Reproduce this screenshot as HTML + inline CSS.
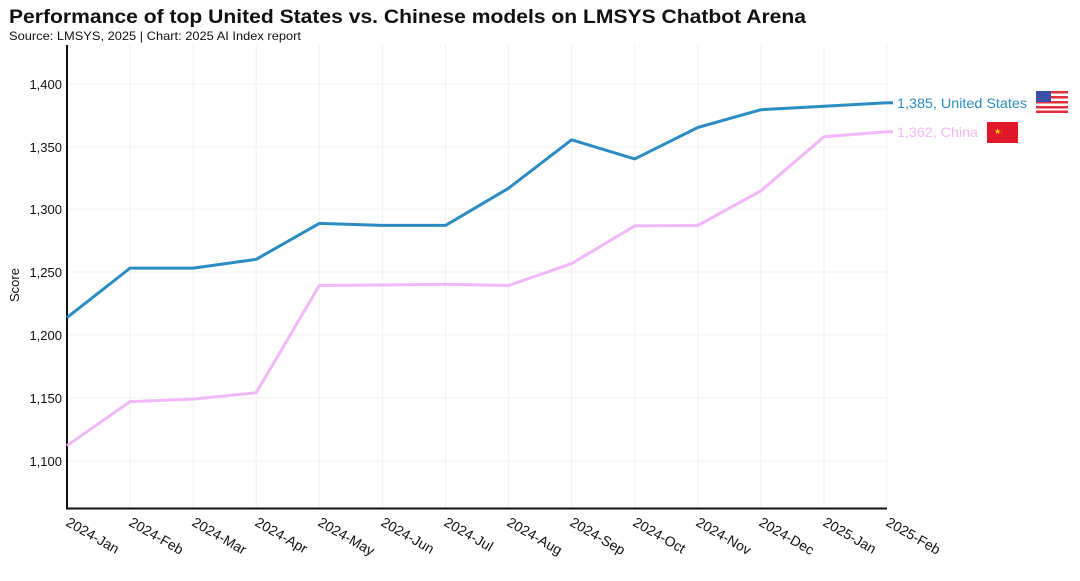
<!DOCTYPE html>
<html><head><meta charset="utf-8"><style>
body{margin:0;background:#fff;}
svg{display:block;font-family:"Liberation Sans",sans-serif;}
</style></head><body>
<svg width="1080" height="581" viewBox="0 0 1080 581">
<text x="9" y="23" font-size="19" font-weight="bold" fill="#111" textLength="797" lengthAdjust="spacingAndGlyphs">Performance of top United States vs. Chinese models on LMSYS Chatbot Arena</text>
<text x="9" y="40" font-size="12" fill="#111" textLength="292" lengthAdjust="spacingAndGlyphs">Source: LMSYS, 2025 | Chart: 2025 AI Index report</text>
<g stroke="#f0f0f0" stroke-width="1">
<line x1="67" y1="84" x2="887" y2="84"/><line x1="67" y1="147" x2="887" y2="147"/><line x1="67" y1="209" x2="887" y2="209"/><line x1="67" y1="272" x2="887" y2="272"/><line x1="67" y1="335" x2="887" y2="335"/><line x1="67" y1="398" x2="887" y2="398"/><line x1="67" y1="461" x2="887" y2="461"/>
<line x1="130.1" y1="45" x2="130.1" y2="508"/><line x1="193.2" y1="45" x2="193.2" y2="508"/><line x1="256.2" y1="45" x2="256.2" y2="508"/><line x1="319.3" y1="45" x2="319.3" y2="508"/><line x1="382.4" y1="45" x2="382.4" y2="508"/><line x1="445.5" y1="45" x2="445.5" y2="508"/><line x1="508.6" y1="45" x2="508.6" y2="508"/><line x1="571.6" y1="45" x2="571.6" y2="508"/><line x1="634.7" y1="45" x2="634.7" y2="508"/><line x1="697.8" y1="45" x2="697.8" y2="508"/><line x1="760.9" y1="45" x2="760.9" y2="508"/><line x1="824" y1="45" x2="824" y2="508"/><line x1="887" y1="45" x2="887" y2="508"/>
</g>
<g font-size="13" fill="#111" text-anchor="end">
<text x="62" y="89">1,400</text><text x="62" y="152">1,350</text><text x="62" y="214">1,300</text><text x="62" y="277">1,250</text><text x="62" y="340">1,200</text><text x="62" y="403">1,150</text><text x="62" y="466">1,100</text>
</g>
<text transform="translate(19,285) rotate(-90)" font-size="13" fill="#111" text-anchor="middle">Score</text>
<polyline fill="none" stroke="#111" stroke-width="2" points="67,45 67,508.5 887,508.5"/>
<g font-size="14" fill="#111">
<text transform="translate(65,525) rotate(30)">2024-Jan</text>
<text transform="translate(128,525) rotate(30)">2024-Feb</text>
<text transform="translate(191,525) rotate(30)">2024-Mar</text>
<text transform="translate(254,525) rotate(30)">2024-Apr</text>
<text transform="translate(317,525) rotate(30)">2024-May</text>
<text transform="translate(380,525) rotate(30)">2024-Jun</text>
<text transform="translate(443,525) rotate(30)">2024-Jul</text>
<text transform="translate(506,525) rotate(30)">2024-Aug</text>
<text transform="translate(569,525) rotate(30)">2024-Sep</text>
<text transform="translate(632,525) rotate(30)">2024-Oct</text>
<text transform="translate(695,525) rotate(30)">2024-Nov</text>
<text transform="translate(758,525) rotate(30)">2024-Dec</text>
<text transform="translate(822,525) rotate(30)">2025-Jan</text>
<text transform="translate(885,525) rotate(30)">2025-Feb</text>
</g>
<polyline fill="none" stroke="#f0b8f8" stroke-width="3" stroke-linejoin="round" points="67,445.6 130.1,401.6 193.2,399.1 256.2,392.8 319.3,285.5 382.4,285 445.5,284.3 508.6,285.5 571.6,263.6 634.7,225.9 697.8,225.5 760.9,190.8 824,136.8 887,131.7"/>
<polyline fill="none" stroke="#2b8cc4" stroke-width="3" stroke-linejoin="round" points="67,317.6 130.1,268.1 193.2,268.1 256.2,259.3 319.3,223.4 382.4,225.4 445.5,225.4 508.6,188.2 571.6,139.8 634.7,158.9 697.8,127.5 760.9,109.7 824,106.3 887,102.8"/>
<line x1="887" y1="102.8" x2="893" y2="102.8" stroke="#2b8cc4" stroke-width="3"/>
<line x1="887" y1="131.7" x2="893" y2="131.7" stroke="#f0b8f8" stroke-width="3"/>
<text x="897" y="108" font-size="14" fill="#2b8cc4" textLength="130" lengthAdjust="spacingAndGlyphs">1,385, United States</text>
<text x="897" y="137" font-size="14" fill="#f0b8f8" textLength="81" lengthAdjust="spacingAndGlyphs">1,362, China</text>
<g>
<rect x="1036" y="91" width="32" height="22" fill="#fff"/>
<rect x="1036" y="91" width="32" height="2.5" fill="#e0313e"/>
<rect x="1036" y="96" width="32" height="2.5" fill="#e0313e"/>
<rect x="1036" y="101" width="32" height="2.5" fill="#e0313e"/>
<rect x="1036" y="106" width="32" height="2.5" fill="#e0313e"/>
<rect x="1036" y="110.5" width="32" height="2.5" fill="#e0313e"/>
<rect x="1036" y="91" width="15" height="11" fill="#3c4fa8"/>
<rect x="987" y="122" width="31" height="21" fill="#e0182a"/>
<text x="994" y="134" font-size="8" fill="#ffde00">★</text>
<text x="1001" y="134" font-size="5" fill="#ffde00">⁝</text>
</g>
</svg>
</body></html>
